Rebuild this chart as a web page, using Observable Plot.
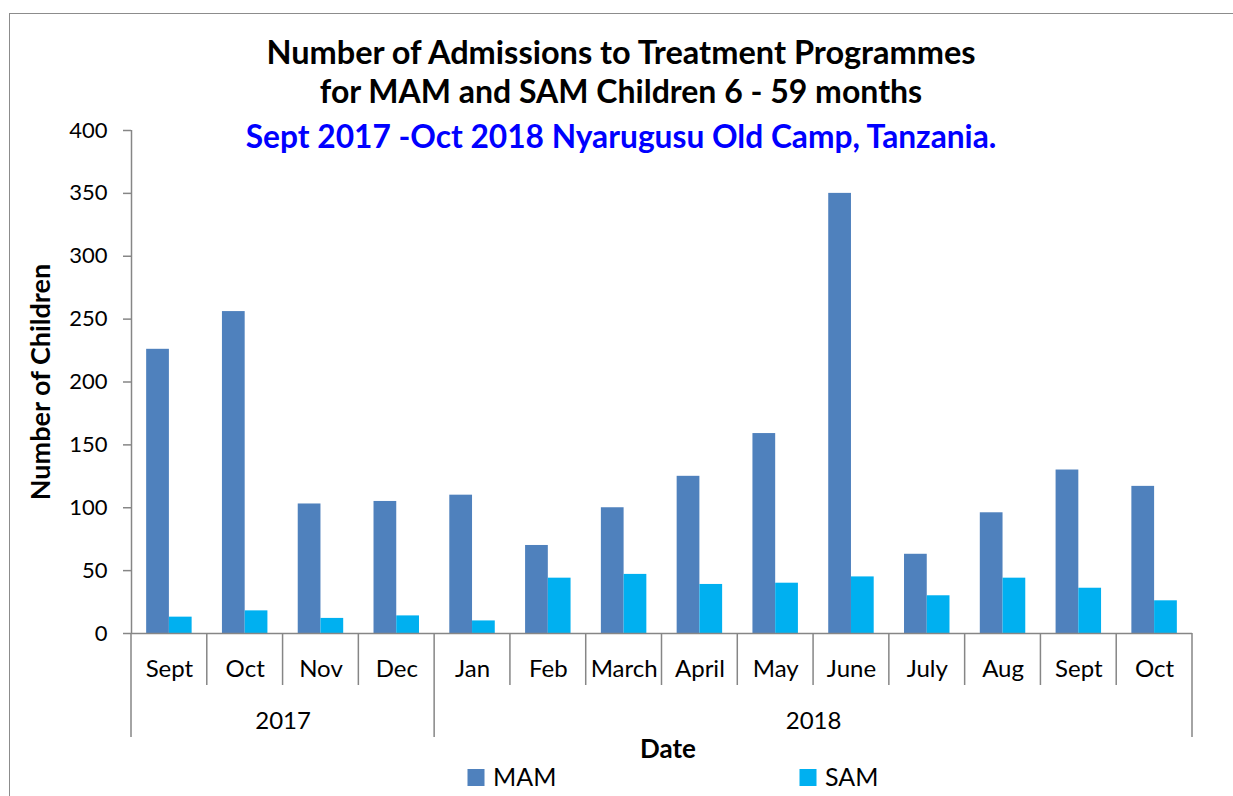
<!DOCTYPE html>
<html>
<head>
<meta charset="utf-8">
<script src="https://cdn.jsdelivr.net/npm/d3@7"></script>
<script src="https://cdn.jsdelivr.net/npm/@observablehq/plot@0.6"></script>
<style>
  body { margin: 0; background: #fff; }
  #wrap { position: relative; width: 1233px; height: 796px; overflow: hidden; font-family: Lato, sans-serif; }
  #border { position: absolute; left: 9px; top: 13px; width: 1400px; height: 900px; border: 1.5px solid #8c8c8c; }
  #chart { position: absolute; left: 0; top: 0; }
</style>
</head>
<body>
<div id="wrap"><div id="border"></div><div id="chart"></div></div>
<script>
// ---- data ----
const months = ["Sept","Oct","Nov","Dec","Jan","Feb","March","April","May","June","July","Aug","Sept","Oct"];
const years  = ["2017","2017","2017","2017","2018","2018","2018","2018","2018","2018","2018","2018","2018","2018"];
const mam = [226, 256, 103, 105, 110, 70, 100, 125, 159, 350, 63, 96, 130, 117];
const sam = [13, 18, 12, 14, 10, 44, 47, 39, 40, 45, 30, 44, 36, 26];
const yTicks = [0, 50, 100, 150, 200, 250, 300, 350, 400];
const seriesNames = ["MAM", "SAM"];
const seriesColors = ["#4F81BD", "#00B0F0"];
const titleLines = ["Number of Admissions to Treatment Programmes", "for MAM and SAM Children 6 - 59 months"];
const subtitle = "Sept 2017 -Oct 2018 Nyarugusu Old Camp, Tanzania.";
const yLabel = "Number of Children";
const xLabel = "Date";

// ---- derived tables ----
const rows = months.map((m, i) => ({i, month: m, year: years[i], MAM: mam[i], SAM: sam[i]}));
const yearGroups = [];
years.forEach((y, i) => {
  const last = yearGroups[yearGroups.length - 1];
  if (last && last.year === y) last.end = i + 1;
  else yearGroups.push({year: y, start: i, end: i + 1});
});

const axisGray = "#868686";
const legendOffsets = [-186, 146]; // swatch offsets from frame centre (px)

function separators(index, scales, values, dims) {
  const g = d3.create("svg:g").attr("stroke", axisGray).attr("stroke-width", 1.5);
  const y0 = dims.height - dims.marginBottom;
  for (let b = 0; b <= months.length; b++) {
    const isYear = b === 0 || b === months.length || years[b] !== years[b - 1];
    const x = scales.x(b);
    g.append("line").attr("x1", x).attr("x2", x).attr("y1", y0).attr("y2", y0 + (isYear ? 104 : 52));
  }
  return g.node();
}

const legendMarks = seriesNames.flatMap((name, i) => [
  Plot.dot([name], {frameAnchor: "bottom", dx: legendOffsets[i], dy: 144, symbol: "square", r: 9.6, fill: seriesColors[i]}),
  Plot.text([name], {frameAnchor: "bottom", text: d => d, dx: legendOffsets[i] + 17, dy: 152, textAnchor: "start", lineAnchor: "bottom", fontSize: 25, fill: "#000"})
]);

const chart = Plot.plot({
  width: 1233,
  height: 796,
  marginLeft: 131,
  marginRight: 41,
  marginTop: 130,
  marginBottom: 163,
  style: {fontFamily: "Lato, sans-serif", fontSize: "22px", color: "#000", background: "transparent", overflow: "visible"},
  x: {domain: [0, months.length], axis: null},
  y: {domain: [0, 400], axis: null},
  marks: [
    Plot.rectY(rows, {x1: d => d.i + 0.2, x2: d => d.i + 0.5, y: "MAM", fill: seriesColors[0]}),
    Plot.rectY(rows, {x1: d => d.i + 0.5, x2: d => d.i + 0.8, y: "SAM", fill: seriesColors[1]}),
    Plot.axisY({ticks: yTicks, tickSize: 8, tickPadding: 16, fontSize: 22, stroke: axisGray, strokeWidth: 1.5, label: null, tickFormat: d => String(d)}),
    Plot.ruleX([0], {stroke: axisGray, strokeWidth: 1.5}),
    Plot.ruleY([0], {x1: 0, x2: months.length, stroke: axisGray, strokeWidth: 1.5}),
    separators,
    Plot.text(rows, {x: d => d.i + 0.5, y: 0, text: "month", dy: 36, fontSize: 24, fill: "#000"}),
    Plot.text(yearGroups, {x: d => (d.start + d.end) / 2, y: 0, text: "year", dy: 88, fontSize: 24, fill: "#000"}),
    Plot.text([xLabel], {frameAnchor: "bottom", text: d => d, dx: 6, dy: 124, lineAnchor: "bottom", fontSize: 26, fontWeight: "bold", fill: "#000"}),
    Plot.text([yLabel], {frameAnchor: "left", text: d => d, rotate: -90, textAnchor: "middle", dx: -90, fontSize: 27, fontWeight: "bold", fill: "#000"}),
    Plot.text([titleLines[0]], {frameAnchor: "top", text: d => d, dx: -41, dy: -66.7, lineAnchor: "bottom", fontSize: 32.5, fontWeight: "bold", fill: "#000"}),
    Plot.text([titleLines[1]], {frameAnchor: "top", text: d => d, dx: -41, dy: -27.3, lineAnchor: "bottom", fontSize: 32, fontWeight: "bold", fill: "#000"}),
    Plot.text([subtitle], {frameAnchor: "top", text: d => d, dx: -41, dy: 17.3, lineAnchor: "bottom", fontSize: 31.7, fontWeight: "bold", fill: "#0000FF"}),
    ...legendMarks
  ]
});
document.getElementById("chart").appendChild(chart);
</script>
</body>
</html>
